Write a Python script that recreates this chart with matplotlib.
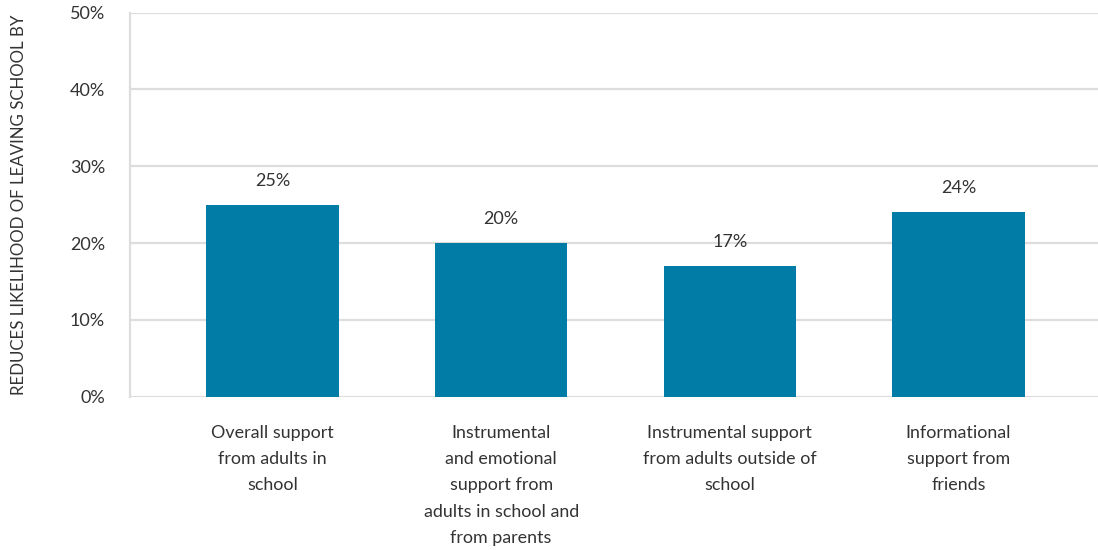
import matplotlib
matplotlib.use("Agg")
import matplotlib.pyplot as plt
from matplotlib.ticker import FuncFormatter

categories = [
    "Overall support\nfrom adults in\nschool",
    "Instrumental\nand emotional\nsupport from\nadults in school and\nfrom parents",
    "Instrumental support\nfrom adults outside of\nschool",
    "Informational\nsupport from\nfriends",
]
values = [25, 20, 17, 24]
value_labels = ["25%", "20%", "17%", "24%"]
y_ticks = [0, 10, 20, 30, 40, 50]

plt.rcParams['font.family'] = ['Lato', 'DejaVu Sans']
text_color = "#333333"
grid_color = "#DDDDDD"
bar_color = "#007CA6"

fig = plt.figure(figsize=(10.98, 5.5), dpi=100)
ax = fig.add_axes([130/1098, 1 - 396.7/550, 1 - 130/1098, (396.7 - 12.7)/550])

x = list(range(len(categories)))
bars = ax.bar(x, values, width=0.58, color=bar_color, zorder=3)

for xi, v, lab in zip(x, values, value_labels):
    ax.annotate(lab, (xi, v), xytext=(0, 11.5), textcoords="offset points",
                ha="center", va="bottom", fontsize=13, color=text_color)

ax.set_xlim(-0.623, 3.61)
ax.set_ylim(0, 50)
ax.set_yticks(y_ticks)
ax.yaxis.set_major_formatter(FuncFormatter(lambda v, p: f"{int(v)}%"))
ax.set_xticks(x)
ax.set_xticklabels(categories, fontsize=12.9, color=text_color, linespacing=1.78, va="top")
ax.tick_params(axis="x", length=0, pad=20.5)
ax.tick_params(axis="y", length=0, pad=18, labelsize=13, labelcolor=text_color)
ax.grid(axis="y", color=grid_color, linewidth=1.6, zorder=0)
for s in ["top", "right", "bottom"]:
    ax.spines[s].set_visible(False)
ax.spines["left"].set_color(grid_color)
ax.spines["left"].set_linewidth(1.6)

ax.set_ylabel("REDUCES LIKELIHOOD OF LEAVING SCHOOL BY", fontsize=12.2, color=text_color)
ax.yaxis.set_label_coords((27 - 130) / 968, 0.5)

fig.savefig("out.png", dpi=100)
